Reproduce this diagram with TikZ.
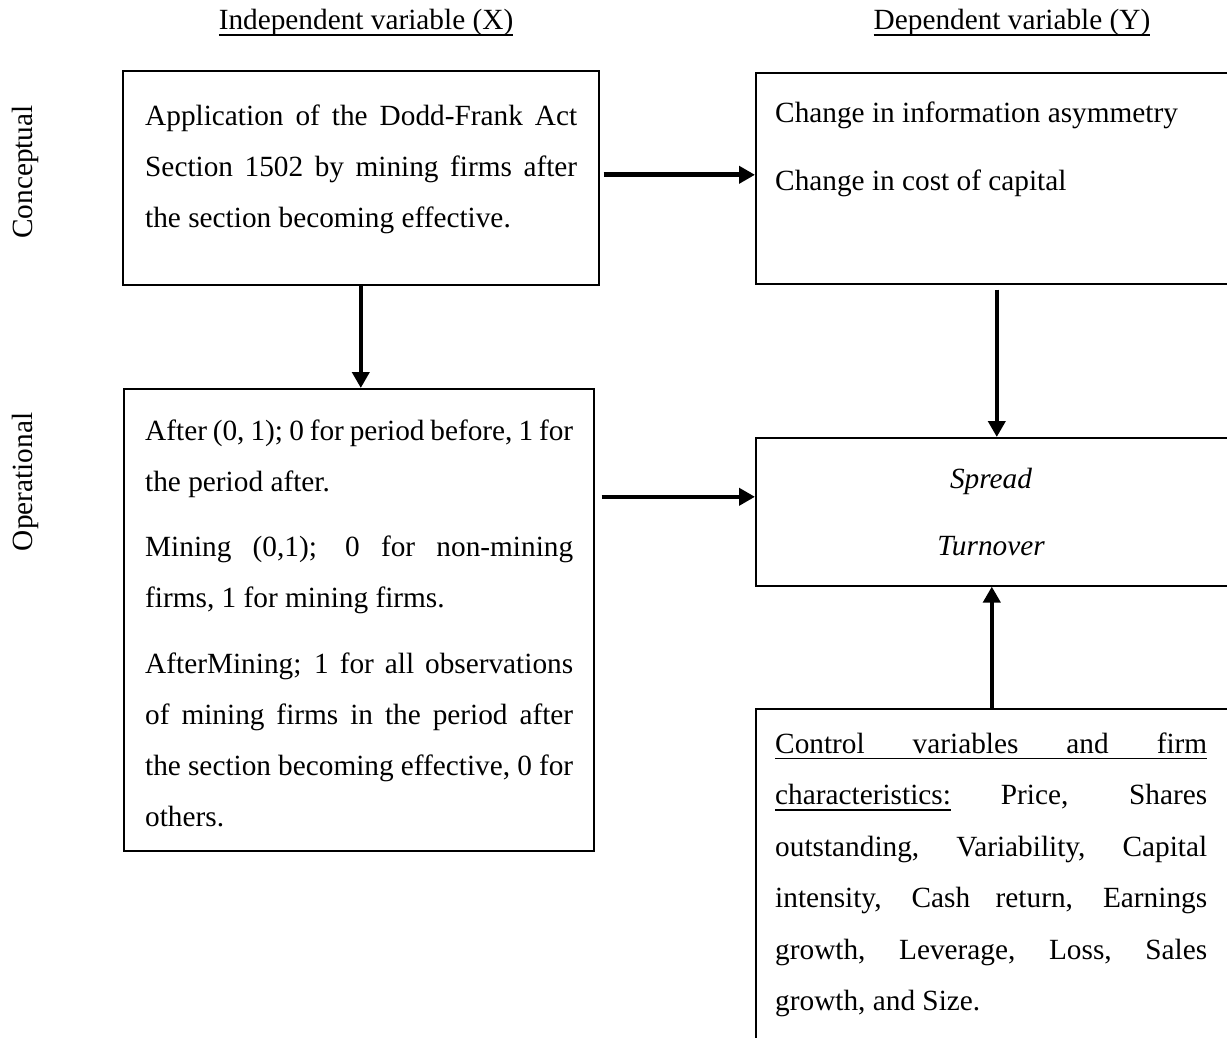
\documentclass[tikz,border=0pt]{standalone}
\usepackage{fontspec}
\setmainfont{Liberation Serif}
\usetikzlibrary{arrows.meta}
\newcommand{\myul}[1]{\setbox0\hbox{#1}\rlap{\rule[-6pt]{\wd0}{1.5pt}}\box0\relax}
\newcommand{\jA}[1]{\makebox[432pt][s]{#1}}
\newcommand{\jC}[1]{\makebox[428pt][s]{#1}}
\begin{document}
\begin{tikzpicture}[x=1pt,y=-1pt,
  box/.style={draw,line width=1.6pt,rectangle,inner sep=0pt,anchor=north west},
  txt/.style={anchor=base west,inner sep=0pt,font=\fontsize{29.3}{51}\selectfont},
  ctxt/.style={anchor=base,inner sep=0pt,font=\fontsize{29.3}{51}\selectfont},
  arr/.style={line width=4.6pt,-{Triangle[length=16pt,width=17pt]}}]
\useasboundingbox (0,0) rectangle (1227,1038);
\fill[white] (0,0) rectangle (1227,1038);

% headers
\node[ctxt] (hx) at (366,30) {\myul{Independent variable (X)}};
\node[ctxt] (hy) at (1012,30) {\myul{Dependent variable (Y)}};

% side labels
\node[ctxt,rotate=90] (lc) at (32,172) {Conceptual};
\node[ctxt,rotate=90] (lo) at (32,482) {Operational};

% boxes
\node[box,minimum width=476pt,minimum height=214pt] (A) at (122,70) {};
\node[box,minimum width=476pt,minimum height=211pt] (B) at (755,72) {};
\node[box,minimum width=470pt,minimum height=462pt] (C) at (123,388) {};
\node[box,minimum width=476pt,minimum height=148pt] (D) at (755,437) {};
\node[box,minimum width=476pt,minimum height=340pt] (E) at (755,708) {};

% box A text
\node[txt] (a1) at (145,126) {\jA{Application of the Dodd-Frank Act}};
\node[txt] (a2) at (145,176.5) {\jA{Section 1502 by mining firms after}};
\node[txt] (a3) at (145,227) {the section becoming effective.};

% box B text
\node[txt] (b1) at (775,123) {Change in information asymmetry};
\node[txt] (b2) at (775,191) {Change in cost of capital};

% box C text
\node[txt] (c1) at (145,440) {\jC{After (0, 1); 0 for period before, 1 for}};
\node[txt] (c2) at (145,491) {the period after.};
\node[txt] (c3) at (145,556) {\jC{Mining (0,1); 0 for non-mining}};
\node[txt] (c4) at (145,607) {firms, 1 for mining firms.};
\node[txt] (c5) at (145,673) {\jC{AfterMining; 1 for all observations}};
\node[txt] (c6) at (145,724) {\jC{of mining firms in the period after}};
\node[txt] (c7) at (145,775) {\jC{the section becoming effective, 0 for}};
\node[txt] (c8) at (145,826) {others.};

% box D text
\node[ctxt] (d1) at (991,488) {\itshape Spread};
\node[ctxt] (d2) at (991,555) {\itshape Turnover};

% box E text
\node[txt] (e1) at (775,753) {\myul{\jA{Control variables and firm}}};
\node[txt] (e2) at (775,804.5) {\jA{\myul{characteristics:} Price, Shares}};
\node[txt] (e3) at (775,856) {\jA{outstanding, Variability, Capital}};
\node[txt] (e4) at (775,907.5) {\jA{intensity, Cash return, Earnings}};
\node[txt] (e5) at (775,959) {\jA{growth, Leverage, Loss, Sales}};
\node[txt] (e6) at (775,1010.5) {growth, and Size.};

% connectors
\coordinate (ab) at ([yshift=3pt]A.east);
\draw[arr] ([xshift=4pt]ab) -- (ab -| B.west);
\draw[arr] (A.south) -- (A.south |- C.north);
\coordinate (bd) at ([xshift=3pt]B.south);
\draw[arr] ([yshift=-5pt]bd) -- (bd |- D.north);
\coordinate (cd) at ([yshift=15pt]D.west);
\coordinate (cd0) at (C.east |- cd);
\draw[arr] ([xshift=7pt]cd0) -- (cd);
\coordinate (ed) at ([xshift=-2pt]E.north);
\draw[arr] (ed) -- (ed |- D.south);
\end{tikzpicture}
\end{document}
